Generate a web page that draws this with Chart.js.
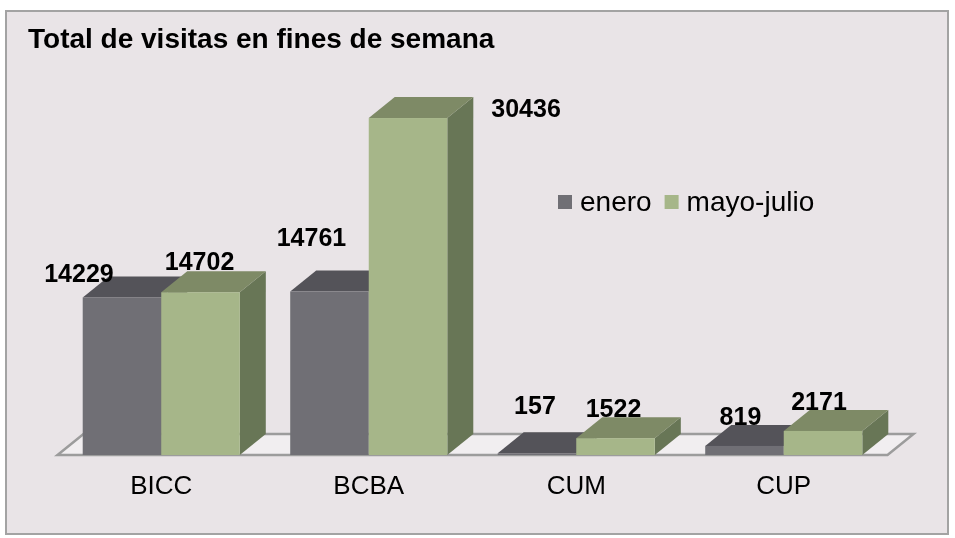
<!DOCTYPE html>
<html><head><meta charset="utf-8">
<script src="https://cdn.jsdelivr.net/npm/chart.js@4.4.1/dist/chart.umd.min.js"></script>
<style>html,body{margin:0;padding:0;background:#fff}#wrap{width:955px;height:538px;position:relative}</style>
</head><body><div id="wrap"><canvas id="c"></canvas></div>
<script>
// ---- data ----
const categories = ['BICC', 'BCBA', 'CUM', 'CUP'];
const seriesNames = ['enero', 'mayo-julio'];
const eneroValues = [14229, 14761, 157, 819];
const mayoJulioValues = [14702, 30436, 1522, 2171];
const titleText = 'Total de visitas en fines de semana';
const yMax = 35000;

// ---- style ----
const FONT = '"Liberation Sans", Arial, sans-serif';
const DEPTH = { dx: 26, dy: -21 };
const FACES = [
  { front: '#706F75', top: '#545359', side: '#48474C' },
  { front: '#A6B689', top: '#7E8A66', side: '#687656' }
];
// manual label nudges (layout), relative to front-top centre of each bar
const LABEL_NUDGE = [
  [[-43, -22], [-18, -52], [-2, -46], [-4, -28]],
  [[-1, -29], [118, -8], [-2, -28], [-4, -28]]
];

const bars3d = {
  id: 'bars3d',
  beforeDraw(chart) {
    const ctx = chart.ctx;
    ctx.save();
    ctx.fillStyle = '#E9E4E7';
    ctx.fillRect(6, 11, 942, 523);
    ctx.strokeStyle = '#A3A3A3';
    ctx.lineWidth = 2;
    ctx.strokeRect(6, 11, 942, 523);
    ctx.restore();
  },
  beforeDatasetsDraw(chart) {
    const ctx = chart.ctx, a = chart.chartArea;
    const base = chart.scales.y.getPixelForValue(0);
    const { dx, dy } = DEPTH;
    ctx.save();
    // floor
    ctx.beginPath();
    ctx.moveTo(a.left, base);
    ctx.lineTo(a.right, base);
    ctx.lineTo(a.right + dx, base + dy);
    ctx.lineTo(a.left + dx, base + dy);
    ctx.closePath();
    ctx.fillStyle = '#F1EEF0';
    ctx.fill();
    ctx.strokeStyle = '#9C9C9C';
    ctx.lineWidth = 2.5;
    ctx.lineJoin = 'miter';
    ctx.stroke();
    // bars
    for (let j = 0; j < categories.length; j++) {
      for (let i = 0; i < chart.data.datasets.length; i++) {
        const el = chart.getDatasetMeta(i).data[j];
        const f = FACES[i];
        const x0 = el.x - el.width / 2, x1 = el.x + el.width / 2;
        const yt = el.y, yb = el.base;
        // side
        ctx.beginPath();
        ctx.moveTo(x1, yb); ctx.lineTo(x1 + dx, yb + dy);
        ctx.lineTo(x1 + dx, yt + dy); ctx.lineTo(x1, yt); ctx.closePath();
        ctx.fillStyle = f.side; ctx.fill();
        // top
        ctx.beginPath();
        ctx.moveTo(x0, yt); ctx.lineTo(x0 + dx, yt + dy);
        ctx.lineTo(x1 + dx, yt + dy); ctx.lineTo(x1, yt); ctx.closePath();
        ctx.fillStyle = f.top; ctx.fill();
        // front
        ctx.fillStyle = f.front;
        ctx.fillRect(x0, yt, x1 - x0, yb - yt);
      }
    }
    ctx.restore();
    return false;
  },
  afterDraw(chart) {
    const ctx = chart.ctx;
    ctx.save();
    // data labels
    ctx.fillStyle = '#000';
    ctx.font = 'bold 25px ' + FONT;
    ctx.textAlign = 'center';
    ctx.textBaseline = 'middle';
    chart.data.datasets.forEach((ds, i) => {
      chart.getDatasetMeta(i).data.forEach((el, j) => {
        const n = LABEL_NUDGE[i][j];
        ctx.fillText(String(ds.data[j]), el.x + n[0], el.y + n[1]);
      });
    });
    // title
    ctx.textAlign = 'left';
    ctx.textBaseline = 'alphabetic';
    ctx.font = 'bold 28px ' + FONT;
    ctx.fillText(titleText, 28, 48);
    // legend
    ctx.font = '28px ' + FONT;
    let x = 558;
    chart.data.datasets.forEach((ds, i) => {
      ctx.fillStyle = FACES[i].front;
      ctx.fillRect(x, 195, 14, 14);
      ctx.fillStyle = '#000';
      ctx.fillText(ds.label, x + 22, 211);
      x += 22 + ctx.measureText(ds.label).width + 13;
    });
    ctx.restore();
  }
};

new Chart(document.getElementById('c'), {
  type: 'bar',
  data: {
    labels: categories,
    datasets: [
      { label: seriesNames[0], data: eneroValues, backgroundColor: FACES[0].front },
      { label: seriesNames[1], data: mayoJulioValues, backgroundColor: FACES[1].front }
    ]
  },
  options: {
    responsive: true,
    maintainAspectRatio: false,
    animation: false,
    events: [],
    layout: { padding: { left: 57.5, right: 67.5, top: 67.5, bottom: 0 } },
    datasets: { bar: { categoryPercentage: 0.757, barPercentage: 1.0 } },
    plugins: { legend: { display: false }, title: { display: false }, tooltip: { enabled: false } },
    scales: {
      y: { display: false, min: 0, max: yMax },
      x: {
        grid: { display: false, drawTicks: false },
        border: { display: false },
        ticks: { color: '#000', font: { family: FONT, size: 26 }, padding: 16 },
        afterFit(scale) { scale.height = 83; }
      }
    }
  },
  plugins: [bars3d]
});
</script>
</body></html>
